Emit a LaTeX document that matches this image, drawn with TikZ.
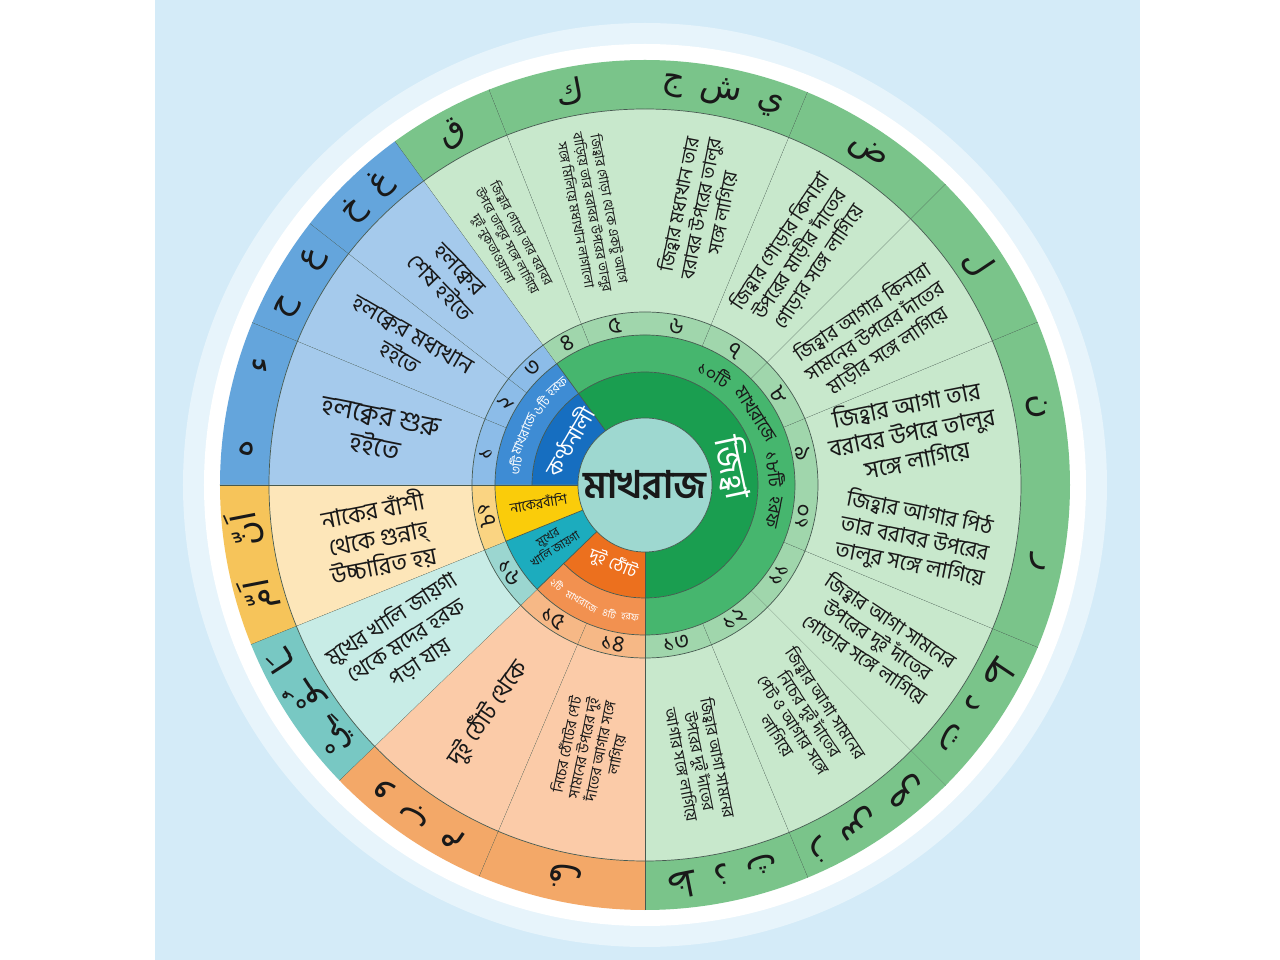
\documentclass[tikz,border=0pt]{standalone}
\usepackage{fontspec}
\newfontfamily\bengalifnt[Script=Bengali]{Hind Siliguri}
\newfontfamily\arabicfnt[Script=Arabic]{DejaVu Sans}
\TeXXeTstate=1

\definecolor{bgBlue}{RGB}{212,235,248}
\definecolor{lineGray}{RGB}{70,90,80}
\definecolor{inkBlack}{RGB}{25,25,25}
\definecolor{hubColor}{RGB}{158,216,208}
\definecolor{greenOut}{RGB}{122,196,138}
\definecolor{greenText}{RGB}{200,232,204}
\definecolor{greenNum}{RGB}{160,214,172}
\definecolor{greenMid}{RGB}{70,182,110}
\definecolor{greenDark}{RGB}{26,158,80}
\definecolor{blueOut}{RGB}{100,165,220}
\definecolor{blueText}{RGB}{165,202,236}
\definecolor{blueNum}{RGB}{140,188,232}
\definecolor{blueMid}{RGB}{62,140,212}
\definecolor{blueDark}{RGB}{22,110,192}
\definecolor{yellowOut}{RGB}{246,196,90}
\definecolor{yellowText}{RGB}{253,230,185}
\definecolor{yellowNum}{RGB}{250,212,130}
\definecolor{yellowIn}{RGB}{250,204,10}
\definecolor{tealOut}{RGB}{120,200,195}
\definecolor{tealText}{RGB}{200,236,230}
\definecolor{tealNum}{RGB}{155,214,208}
\definecolor{tealIn}{RGB}{28,172,190}
\definecolor{orangeOut}{RGB}{243,168,104}
\definecolor{orangeText}{RGB}{251,203,168}
\definecolor{orangeNum}{RGB}{246,184,134}
\definecolor{orangeMid}{RGB}{242,145,80}
\definecolor{orangeDark}{RGB}{236,112,30}

\tikzset{
  ringline/.style={draw=lineGray, line width=0.7pt},
  bnlbl/.style 2 args={font=\bengalifnt\fontsize{#1}{#2}\selectfont, align=center, inner sep=0pt, text=inkBlack},
  numlbl/.style={font=\bengalifnt\fontsize{23}{24}\selectfont, inner sep=0pt, text=inkBlack},
  harflbl/.style={font=\arabicfnt\fontsize{34}{36}\selectfont, inner sep=0pt, text=inkBlack},
  ringcap/.style={font=\bengalifnt\fontsize{#1}{#1}\selectfont, inner sep=0pt}
}

% ring piece: colour, start angle, end angle, inner radius, outer radius
\newcommand{\annseg}[5]{%
  \fill[fill=#1] (#2:#4pt) arc[start angle=#2, end angle=#3, radius=#4pt]
    -- (#3:#5pt) arc[start angle=#3, end angle=#2, radius=#5pt] -- cycle;}

\begin{document}
\begin{tikzpicture}
  \useasboundingbox (-645pt,-475pt) rectangle (635pt,485pt);
  \fill[white] (-645pt,-475pt) rectangle (635pt,485pt);
  \fill[bgBlue] (-490pt,-475pt) rectangle (495pt,485pt);
  \fill[white, opacity=0.45] (0,0) circle[radius=462pt];
  \fill[white] (0,0) circle[radius=441pt];

  % outer sectors: letters, text band, numbers
  \foreach \a/\b/\grp/\nr/\harf [count=\i] in {
      157.5/180/blue/১/{ء\qquad ه},
      142/157.5/blue/২/{ع\quad ح},
      126/142/blue/৩/{غ\enspace خ},
      111.5/126/green/৪/{ق},
      90/111.5/green/৫/{ك},
      67.5/90/green/৬/{ي\enspace ش\enspace ج},
      45/67.5/green/৭/{ض},
      22.5/45/green/৮/{ل},
      0/22.5/green/৯/{ن},
      -22.5/0/green/১০/{ر},
      -45/-22.5/green/১১/{ت\enspace د\enspace ط},
      -67.5/-45/green/১২/{ز\enspace س\enspace ص},
      -90/-67.5/green/১৩/{ظ\enspace ذ\enspace ث},
      -113/-90/orange/১৪/{ف},
      -136/-113/orange/১৫/{و\enspace ب\enspace م},
      -158/-136/teal/১৬/{ـَا\enspace ـُوْ\enspace ـِيْ},
      -180/-158/yellow/১৭/{اَنّ\quad اَمّ}} {
    \pgfmathsetmacro\m{(\a+\b)/2}
    \pgfmathsetmacro\rn{\m>0 ? \m-90 : \m+90}
    \annseg{\grp Out}{\a}{\b}{376}{425}
    \annseg{\grp Text}{\a}{\b}{173}{376}
    \annseg{\grp Num}{\a}{\b}{150}{173}
    \draw[ringline] (\a:150pt) -- (\a:425pt);
    \node[numlbl, rotate=\rn] (n\i) at (\m:161.5pt) {\nr};
    \node[harflbl, rotate=\m-90] (h\i) at (\m:400pt) {\beginR\harf\endR};
  }

  % inner groups
  \annseg{blueMid}{126}{180}{113}{150}
  \annseg{blueDark}{126}{180}{67}{113}
  \annseg{greenMid}{-90}{126}{113}{150}
  \annseg{greenDark}{-90}{126}{67}{113}
  \annseg{orangeMid}{-136}{-90}{113}{150}
  \annseg{orangeDark}{-136}{-90}{67}{113}
  \annseg{tealIn}{-158}{-136}{67}{150}
  \annseg{yellowIn}{-180}{-158}{67}{150}
  \fill[hubColor] (0,0) circle[radius=67pt];

  % ring lines
  \foreach \r in {150,173,376}
    \draw[ringline] (0,0) circle[radius=\r pt];
  \draw[ringline] (-136:113pt) arc[start angle=-136, end angle=180, radius=113pt];
  \foreach \g in {126,180,-90,-136,-158}
    \draw[ringline] (\g:67pt) -- (\g:150pt);
  \draw[ringline] (0,0) circle[radius=67pt];

  % hub and inner captions
  \node[bnlbl={38}{40}, font=\bengalifnt\bfseries\fontsize{38}{40}\selectfont] (hub) at (0,0) {মাখরাজ};
  \node[bnlbl={34}{36}, text=white, rotate=-78] (jihba) at (11:90pt) {জিহ্বা};
  \node[bnlbl={22}{24}, text=white, rotate=60] (kantha) at (150:88pt) {কণ্ঠনালী};
  \node[bnlbl={17.5}{19}, text=white, rotate=-22] (thot) at (-112:85pt) {দুই ঠোঁট};
  \node[bnlbl={14}{16}, rotate=9.5] (nak) at (-170.5:108pt) {নাকেরবাঁশি};
  \node[bnlbl={12}{14}, rotate=32] (mukh) at (-148:110pt) {মুখের\\খালি জায়গা};

  % captions bent along the middle ring
  \foreach \w/\ang [count=\k] in {৩টি/171.5, মাখরাজে/157.1, ৬টি/142.6, হরফ/131.9}
    \node[ringcap=13, text=white, rotate=\ang-90] (bw\k) at (\ang:131.5pt) {\w};
  \foreach \w/\ang [count=\k] in {১০টি/58, মাখরাজে/32.5, ১৮টি/7, হরফ/-12}
    \node[ringcap=18, text=inkBlack, rotate=\ang-90] (gw\k) at (\ang:131.5pt) {\w};
  \foreach \w/\ang [count=\k] in {২টি/-131.5, মাখরাজে/-118.5, ৪টি/-105.5, হরফ/-96.5}
    \node[ringcap=10, text=white, rotate=\ang+90] (ow\k) at (\ang:133pt) {\w};

  % text band
  \node[bnlbl={27}{31}, rotate=-11.25] (t1) at (168.75:272pt) {হলক্বের শুরু\\হইতে};
  \node[bnlbl={23}{27}, rotate=-30.25] (t2) at (149.75:276pt) {হলক্বের মধ্যখান\\হইতে};
  \node[bnlbl={23}{27}, rotate=-46] (t3) at (133.5:284pt) {হলক্বের\\শেষ হইতে};
  \node[bnlbl={13}{16}, rotate=-61.25] (t4) at (119.5:280pt) {জিহ্বার গোড়া তার বরাবর\\উপরে তালুর সঙ্গে লাগিয়ে\\দুই নুকতাওয়ালা};
  \node[bnlbl={13.5}{17}, rotate=-79.25] (t5) at (100.75:278pt) {জিহ্বার গোড়া থেকে একটু আগে\\বাড়িয়ে তার বরাবর উপরের তালুর\\সঙ্গে মিলিয়ে মধ্যখান লাগালো};
  \node[bnlbl={19}{22}, rotate=78.75] (t6) at (78.75:282pt) {জিহ্বার মধ্যখান তার\\বরাবর উপরের তালুর\\সঙ্গে লাগিয়ে};
  \node[bnlbl={20}{23}, rotate=56.25] (t7) at (56.25:278pt) {জিহ্বার গোড়ার কিনারা\\উপরের মাড়ীর দাঁতের\\গোড়ার সঙ্গে লাগিয়ে};
  \node[bnlbl={20}{23}, rotate=33.75] (t8) at (33.75:277pt) {জিহ্বার আগার কিনারা\\সামনের উপরের দাঁতের\\মাড়ীর সঙ্গে লাগিয়ে};
  \node[bnlbl={24}{28}, rotate=11.25] (t9) at (11.25:272pt) {জিহ্বার আগা তার\\বরাবর উপরে তালুর\\সঙ্গে লাগিয়ে};
  \node[bnlbl={22}{26}, rotate=-11.25] (t10) at (-11.25:275pt) {জিহ্বার আগার পিঠ\\তার বরাবর উপরের\\তালুর সঙ্গে লাগিয়ে};
  \node[bnlbl={20}{23}, rotate=-33.75] (t11) at (-33.75:280pt) {জিহ্বার আগা সামনের\\উপরের দুই দাঁতের\\গোড়ার সঙ্গে লাগিয়ে};
  \node[bnlbl={17}{19.5}, rotate=-56.25] (t12) at (-56.25:282pt) {জিহ্বার আগা সামনের\\নিচের দুই দাঁতের\\পেট ও আগার সঙ্গে\\লাগিয়ে};
  \node[bnlbl={16}{18.5}, rotate=-78.75] (t13) at (-78.75:282pt) {জিহ্বার আগা সামনের\\উপরের দুই দাঁতের\\আগার সঙ্গে লাগিয়ে};
  \node[bnlbl={15}{17}, rotate=78.5] (t14) at (-101.5:270pt) {নিচের ঠোঁটের পেট\\সামনের উপরের দুই\\দাঁতের আগার সঙ্গে\\লাগিয়ে};
  \node[bnlbl={24}{28}, rotate=55.5] (t15) at (-124.5:277pt) {দুই ঠোঁট থেকে};
  \node[bnlbl={22}{26}, rotate=33] (t16) at (-147:285pt) {মুখের খালি জায়গা\\থেকে মদের হরফ\\পড়া যায়};
  \node[bnlbl={24}{28}, rotate=11] (t17) at (-169:272pt) {নাকের বাঁশী\\থেকে গুন্নাহ্\\উচ্চারিত হয়};
\end{tikzpicture}
\end{document}
